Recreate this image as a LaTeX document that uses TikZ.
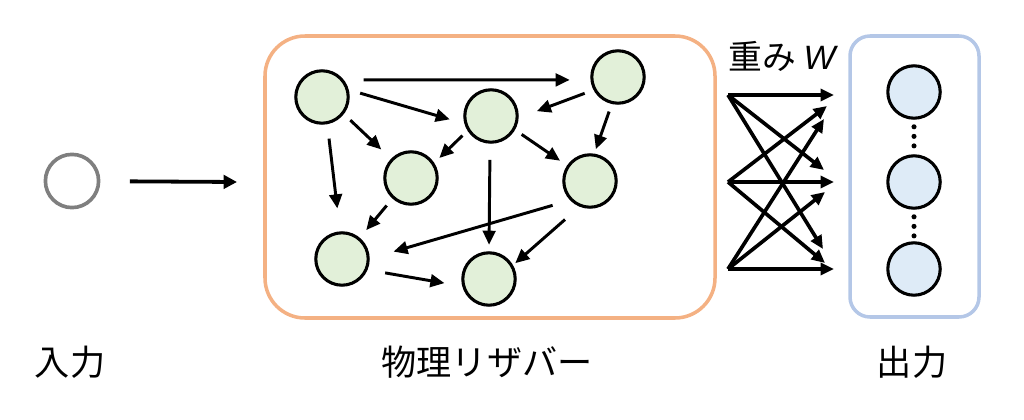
\documentclass[tikz,border=0pt]{standalone}
\usepackage{fontspec}
\setmainfont{Noto Sans CJK JP}
\newfontfamily\latinsans{Liberation Sans}
\usetikzlibrary{arrows.meta}

\definecolor{resorange}{HTML}{F4B183}
\definecolor{outblue}{HTML}{B4C7E7}
\definecolor{nodegreen}{HTML}{E2F0D9}
\definecolor{nodeblue}{HTML}{DEEBF7}
\definecolor{ingray}{HTML}{7F7F7F}

\tikzset{
  resnode/.style={circle, draw, line width=2.2pt, fill=nodegreen, minimum size=1.31cm, inner sep=0pt},
  outnode/.style={circle, draw, line width=2.2pt, fill=nodeblue, minimum size=1.31cm, inner sep=0pt},
  link/.style={line width=2.1pt, -{Triangle[length=10pt,width=9pt]}},
  warr/.style={line width=2.6pt, -{Triangle[length=9.5pt,width=8.5pt]}},
  dots/.style={line width=3.6pt, line cap=round, dash pattern=on 0pt off 6.8pt, shorten <=5pt, shorten >=3pt},
  lbl/.style={font=\fontsize{25}{30}\selectfont}
}

\begin{document}
\begin{tikzpicture}[x=0.025cm, y=-0.025cm]
    \useasboundingbox (0,0) rectangle (1024,420);

    % Input
    \node[circle, draw=ingray, line width=2.6pt, minimum size=1.33cm, inner sep=0pt] (in) at (72,181) {};
    \coordinate (resin) at (237,182);
    \draw[line width=2.7pt, -{Triangle[length=9.5pt,width=9.5pt]}, shorten <=21pt] (in) -- (resin);

    % Reservoir
    \draw[resorange, line width=2.5pt, rounded corners=1cm] (265,36) rectangle (715,318);
    \foreach \n/\x/\y in {A/322/97, B/618/77, C/491/116, D/411/178, E/590/181, F/342/259, G/489/279} {
        \node[resnode] (\n) at (\x,\y) {};
    }
    \draw[link, shorten <=14pt, shorten >=14.7pt] (A.38) -- (B.186);
    \draw[link, shorten <=8.4pt, shorten >=10.8pt] (A.15) -- (C.196);
    \draw[link, shorten <=6.3pt, shorten >=9.6pt] (A.322) -- (D.136);
    \draw[link, shorten <=10.3pt, shorten >=16.4pt] (A.281) -- (F.94);
    \draw[link, shorten <=6.7pt, shorten >=13.8pt] (B.208) -- (C.356);
    \draw[link, shorten <=5.7pt, shorten >=3.3pt] (B.257) -- (E.81);
    \draw[link, shorten <=5pt, shorten >=5pt] (C.212) -- (D.33);
    \draw[link, shorten <=5.7pt, shorten >=6pt] (C.330) -- (E.146);
    \draw[link, shorten <=11.4pt, shorten >=4.6pt] (C.268) -- (G.90);
    \draw[link, shorten <=6.4pt, shorten >=7.1pt] (D.228) -- (F.50);
    \draw[link, shorten <=12.9pt, shorten >=17.6pt] (E.224) -- (F.1);
    \draw[link, shorten <=13.8pt, shorten >=2.1pt] (E.248) -- (G.30);
    \draw[link, shorten <=12.7pt, shorten >=12.8pt] (F.337) -- (G.195);

    % Weights W
    \foreach \i/\y in {1/95, 2/182, 3/269} {
        \coordinate (s\i) at (728,\y);
    }
    \foreach \n/\x/\y in {11/834/95, 21/827/106, 31/824/119, 12/824/170, 22/834/182, 32/825/192, 13/823/249, 23/825/263, 33/834/269} {
        \coordinate (w\n) at (\x,\y);
    }
    \foreach \i in {1,2,3} {
        \foreach \j in {1,2,3} {
            \draw[warr] (s\i) -- (w\i\j);
        }
    }
    \node[font=\fontsize{24}{28}\selectfont] (wlabel) at (782,56) {重み {\latinsans\itshape W}};

    % Output
    \draw[outblue, line width=2.5pt, rounded corners=0.5cm] (850,36) rectangle (979,317);
    \foreach \n/\y in {1/92, 2/182, 3/269} {
        \node[outnode] (o\n) at (914,\y) {};
    }
    \draw[dots] (o1.south) -- (o2.north);
    \draw[dots] (o2.south) -- (o3.north);

    % Labels
    \node[lbl] (inlabel) at (70,362) {入力};
    \node[lbl] (reslabel) at (487,362) {物理リザバー};
    \node[lbl] (outlabel) at (912,362) {出力};
\end{tikzpicture}
\end{document}
